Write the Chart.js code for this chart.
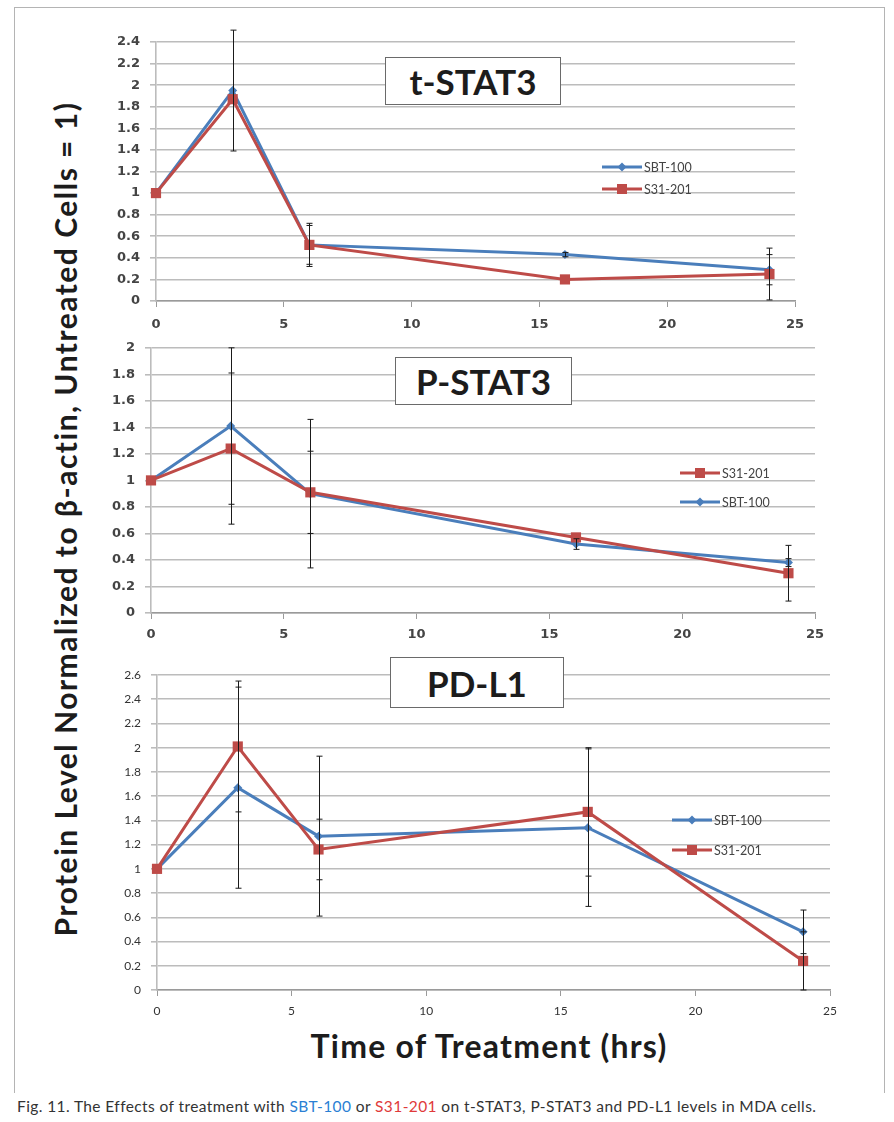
<!DOCTYPE html>
<html>
<head>
<meta charset="utf-8">
<title>Protein levels after treatment</title>
<script src="https://cdn.jsdelivr.net/npm/chart.js@4.4.0/dist/chart.umd.min.js"></script>
<style>
  body { margin: 0; background: #fff; width: 894px; height: 1122px; position: relative; overflow: hidden; font-family: Lato, "Open Sans", sans-serif; }
  .frame { position: absolute; left: 14px; top: 7px; width: 871px; height: 1086px; border: 1px solid #b4b4b4; border-bottom: none; box-sizing: border-box; }
  canvas { position: absolute; }
  .panel-title { position: absolute; border: 1.5px solid #6a6a6a; background: #fff; font: bold 35px Lato, sans-serif; color: #1c1c1c; display: flex; align-items: center; justify-content: center; box-sizing: border-box; }
  #y-title { position: absolute; left: 65px; top: 519px; width: 900px; transform: translate(-50%, -50%) rotate(-90deg); text-align: center; font: bold 30px Lato, sans-serif; letter-spacing: 1.5px; color: #1c1c1c; white-space: nowrap; }
  #x-title { position: absolute; left: 489px; top: 1045px; transform: translate(-50%, -50%); font: bold 32px Lato, sans-serif; letter-spacing: 1.2px; color: #1c1c1c; white-space: nowrap; }
  #caption { position: absolute; left: 17px; top: 1097px; font: 15.5px Lato, sans-serif; letter-spacing: 0.4px; color: #333; white-space: nowrap; }
  #caption .sbt { color: #2a7fd4; }
  #caption .s31 { color: #e03a3a; }
</style>
</head>
<body>
<div class="frame"></div>

<canvas id="chart-tstat3" width="730" height="320" style="left:90px; top:20px"></canvas>
<canvas id="chart-pstat3" width="750" height="320" style="left:85px; top:330px"></canvas>
<canvas id="chart-pdl1" width="760" height="370" style="left:90px; top:655px"></canvas>

<div class="panel-title" style="left:385px; top:57px; width:176px; height:48px">t-STAT3</div>
<div class="panel-title" style="left:395px; top:357px; width:177px; height:48px">P-STAT3</div>
<div class="panel-title" style="left:390px; top:657px; width:174px; height:51px">PD-L1</div>

<div id="y-title">Protein Level Normalized to β-actin, Untreated Cells = 1)</div>
<div id="x-title">Time of Treatment (hrs)</div>
<div id="caption">Fig. 11. The Effects of treatment with <span class="sbt">SBT-100</span> or <span class="s31">S31-201</span> on t-STAT3, P-STAT3 and PD-L1 levels in MDA cells.</div>

<script>
// time points (hrs)
const hours = [0, 3, 6, 16, 24];
const xTicks = [0, 5, 10, 15, 20, 25];

// t-STAT3
const tstat3Sbt = [1, 1.95, 0.52, 0.43, 0.29];
const tstat3SbtErr = [0, 0.56, 0.2, 0.02, 0.14];
const tstat3S31 = [1, 1.87, 0.52, 0.2, 0.25];
const tstat3S31Err = [0, 0, 0.18, 0, 0.24];
const tstat3Ticks = [0, 0.2, 0.4, 0.6, 0.8, 1, 1.2, 1.4, 1.6, 1.8, 2, 2.2, 2.4];

// P-STAT3
const pstat3Sbt = [1, 1.41, 0.9, 0.52, 0.38];
const pstat3SbtErr = [0, 0.59, 0.56, 0.04, 0.03];
const pstat3S31 = [1, 1.24, 0.91, 0.57, 0.3];
const pstat3S31Err = [0, 0.57, 0.31, 0, 0.21];
const pstat3Ticks = [0, 0.2, 0.4, 0.6, 0.8, 1, 1.2, 1.4, 1.6, 1.8, 2];

// PD-L1
const pdl1Sbt = [1, 1.67, 1.27, 1.34, 0.48];
const pdl1SbtErr = [0, 0.83, 0.66, 0.65, 0.18];
const pdl1S31 = [1, 2.01, 1.16, 1.47, 0.24];
const pdl1S31Err = [0, 0.54, 0.25, 0.53, 0.24];
const pdl1Ticks = [0, 0.2, 0.4, 0.6, 0.8, 1, 1.2, 1.4, 1.6, 1.8, 2, 2.2, 2.4, 2.6];

const BLUE = '#4a7ebb';
const RED = '#be4b48';

function points(ys) {
    return hours.map((h, i) => ({ x: h, y: ys[i] }));
}

// vertical error bars with small caps
const errorBars = {
    id: 'errorBars',
    afterDatasetsDraw(chart) {
        const { ctx, scales: { x, y } } = chart;
        ctx.save();
        ctx.strokeStyle = '#1a1a1a';
        ctx.lineWidth = 1;
        chart.data.datasets.forEach((ds) => {
            ds.data.forEach((p, i) => {
                const e = ds.errors[i];
                if (!e) return;
                const px = Math.round(x.getPixelForValue(p.x)) + 0.5;
                const top = y.getPixelForValue(p.y + e);
                const bot = y.getPixelForValue(p.y - e);
                ctx.beginPath();
                ctx.moveTo(px, top); ctx.lineTo(px, bot);
                ctx.moveTo(px - 3, top); ctx.lineTo(px + 3, top);
                ctx.moveTo(px - 3, bot); ctx.lineTo(px + 3, bot);
                ctx.stroke();
            });
        });
        ctx.restore();
    }
};

function drawMarker(ctx, shape, color, cx, cy) {
    ctx.fillStyle = color;
    ctx.beginPath();
    if (shape === 'rect') {
        ctx.rect(cx - 5, cy - 5, 10, 10);
    } else {
        ctx.moveTo(cx, cy - 4.5); ctx.lineTo(cx + 4.5, cy);
        ctx.lineTo(cx, cy + 4.5); ctx.lineTo(cx - 4.5, cy);
        ctx.closePath();
    }
    ctx.fill();
}

// small legend placed inside the plot
const insetLegend = {
    id: 'insetLegend',
    afterDraw(chart, args, opts) {
        const ctx = chart.ctx;
        ctx.save();
        opts.items.forEach((item, i) => {
            const ly = opts.y + i * opts.gap;
            ctx.strokeStyle = item.color;
            ctx.lineWidth = 3;
            ctx.beginPath();
            ctx.moveTo(opts.x, ly); ctx.lineTo(opts.x + 40, ly);
            ctx.stroke();
            drawMarker(ctx, item.shape, item.color, opts.x + 20, ly);
            ctx.fillStyle = '#444';
            ctx.font = '12.5px Lato, sans-serif';
            ctx.textBaseline = 'middle';
            ctx.fillText(item.label, opts.x + 42, ly + 1);
        });
        ctx.restore();
    }
};

const sbtItem = { label: 'SBT-100', color: BLUE, shape: 'rectRot' };
const s31Item = { label: 'S31-201', color: RED, shape: 'rect' };

function makeChart(id, cfg) {
    const tickFont = cfg.bigTicks
        ? { family: '"DejaVu Sans"', size: 13, weight: 'bold' }
        : { family: 'Lato', size: 12 };
    const tickColor = cfg.bigTicks ? '#444' : '#333';
    return new Chart(document.getElementById(id), {
        type: 'scatter',
        data: {
            datasets: [
                {
                    label: 'S31-201', data: points(cfg.s31), errors: cfg.s31Err,
                    borderColor: RED, backgroundColor: RED, pointStyle: 'rect',
                    pointRadius: 7.2, pointBorderWidth: 0
                },
                {
                    label: 'SBT-100', data: points(cfg.sbt), errors: cfg.sbtErr,
                    borderColor: BLUE, backgroundColor: BLUE, pointStyle: 'rectRot',
                    pointRadius: 4.5, pointBorderWidth: 0
                }
            ].map(ds => Object.assign(ds, { showLine: true, borderWidth: 3, clip: false }))
        },
        options: {
            responsive: false,
            animation: false,
            devicePixelRatio: 1,
            layout: { padding: { top: cfg.padTop, right: cfg.padRight, left: 0, bottom: 0 } },
            plugins: {
                legend: { display: false },
                tooltip: { enabled: false },
                insetLegend: cfg.legend
            },
            scales: {
                x: {
                    type: 'linear', min: 0, max: 25,
                    afterBuildTicks: s => { s.ticks = xTicks.map(v => ({ value: v })); },
                    afterFit: s => { s.height = cfg.xHeight; },
                    grid: { drawOnChartArea: false, tickLength: 6, color: '#9a9a9a' },
                    border: { color: '#9a9a9a', width: 1.5 },
                    ticks: { font: tickFont, color: tickColor, padding: cfg.xPad, maxRotation: 0 }
                },
                y: {
                    min: 0, max: cfg.ticks[cfg.ticks.length - 1],
                    afterBuildTicks: s => { s.ticks = cfg.ticks.map(v => ({ value: v })); },
                    afterFit: s => { s.width = cfg.yWidth; },
                    grid: { color: '#bcbcbc', lineWidth: 1.6, tickLength: 6 },
                    border: { color: '#bcbcbc', width: 1.6 },
                    ticks: { font: tickFont, color: tickColor, padding: 10, callback: v => String(v) }
                }
            }
        },
        plugins: [errorBars, insetLegend]
    });
}

makeChart('chart-tstat3', {
    sbt: tstat3Sbt, sbtErr: tstat3SbtErr, s31: tstat3S31, s31Err: tstat3S31Err,
    ticks: tstat3Ticks, bigTicks: true,
    padTop: 22, padRight: 25, yWidth: 66, xHeight: 39, xPad: 10,
    legend: { x: 512, y: 147, gap: 22, items: [sbtItem, s31Item] }
});

makeChart('chart-pstat3', {
    sbt: pstat3Sbt, sbtErr: pstat3SbtErr, s31: pstat3S31, s31Err: pstat3S31Err,
    ticks: pstat3Ticks, bigTicks: true,
    padTop: 12, padRight: 20, yWidth: 66, xHeight: 37, xPad: 8,
    legend: { x: 595, y: 143, gap: 29, items: [s31Item, sbtItem] }
});

makeChart('chart-pdl1', {
    sbt: pdl1Sbt, sbtErr: pdl1SbtErr, s31: pdl1S31, s31Err: pdl1S31Err,
    ticks: pdl1Ticks, bigTicks: false,
    padTop: 20, padRight: 20, yWidth: 67, xHeight: 35, xPad: 8,
    legend: { x: 582, y: 165, gap: 30, items: [sbtItem, s31Item] }
});
</script>
</body>
</html>
